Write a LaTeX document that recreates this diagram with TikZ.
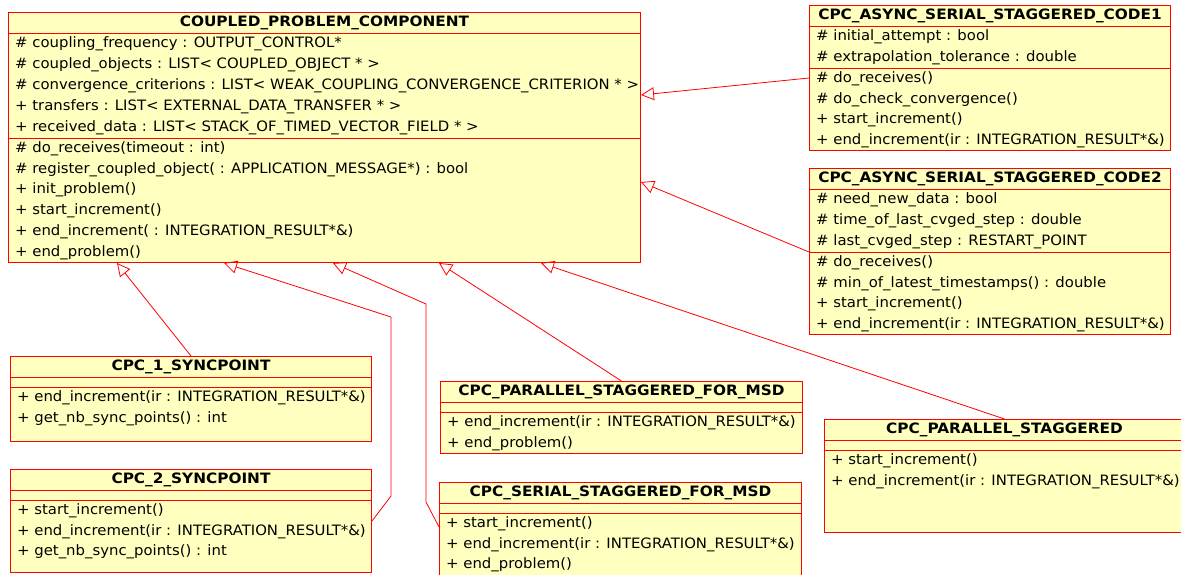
\documentclass[tikz,border=0pt]{standalone}
\usepackage{fontspec}
\setmainfont{DejaVu Sans}[FakeStretch=1.04]
\newfontfamily\titlefont{DejaVu Sans}[FakeStretch=1.07]
\usetikzlibrary{positioning,arrows.meta,calc}
\definecolor{umlfill}{HTML}{FFFFC0}
\definecolor{umlred}{HTML}{FF0000}
\tikzset{
  classbox/.style ={draw=umlred, fill=umlfill, line width=1pt, anchor=north west,
                    inner sep=0pt},
  classline/.style={draw=umlred, line width=1pt},
  classname/.style={font=\titlefont\fontsize{14.3}{16}\selectfont\bfseries, inner sep=0pt},
  member/.style   ={anchor=west, font=\fontsize{14.3}{16}\selectfont, inner sep=0pt},
  inherit/.style  ={-{Triangle[open, length=13pt, width=13pt]}, draw=umlred,
                    line width=0.8pt},
}
\newcommand{\umlclass}[8]{%
  % #1 name, #2 top left, #3 width, #4 height, #5 title,
  % #6 attribute rows, #7 attributes, #8 methods
  \node[classbox, minimum width=#3, minimum height=#4] (#1) at (#2) {};
  \node[classname] (#1-name) at ($(#1.north)+(0,10.5)$) {#5};
  \pgfmathsetmacro{\attrh}{max(10,21*#6)}%
  \draw[classline] ($(#1.north west)+(0,21)$) -- ($(#1.north east)+(0,21)$);
  \draw[classline] ($(#1.north west)+(0,21+\attrh)$) -- ($(#1.north east)+(0,21+\attrh)$);
  \ifnum#6>0
    \foreach [count=\i from 0] \txt in {#7} {%
      \node[member] (#1-a\i) at ($(#1.north west)+(7,31.5+21*\i)$) {\txt};%
    }%
  \fi
  \foreach [count=\i from 0] \txt in {#8} {%
    \node[member] (#1-m\i) at ($(#1.north west)+(7,31.5+\attrh+20.8*\i)$) {\txt};%
  }%
}

\begin{document}
\begin{tikzpicture}[x=1pt, y=-1pt]
  \fill[white] (0,0) rectangle (1181,574);
  \useasboundingbox (0,0) rectangle (1181,574);

  % ---- base class ---------------------------------------------------------
  \umlclass{main}{8,12}{632}{250}{COUPLED\_PROBLEM\_COMPONENT}{5}
    {\# coupling\_frequency : OUTPUT\_CONTROL*,
     \# coupled\_objects : LIST< COUPLED\_OBJECT * >,
     \# convergence\_criterions : LIST< WEAK\_COUPLING\_CONVERGENCE\_CRITERION * >,
     + transfers : LIST< EXTERNAL\_DATA\_TRANSFER * >,
     + received\_data : LIST< STACK\_OF\_TIMED\_VECTOR\_FIELD * >}
    {\# do\_receives(timeout : int),
     \# register\_coupled\_object( : APPLICATION\_MESSAGE*) : bool,
     + init\_problem(),
     + start\_increment(),
     + end\_increment( : INTEGRATION\_RESULT*\&),
     + end\_problem()}

  % ---- async classes ------------------------------------------------------
  \umlclass{code1}{809,5}{361}{145}{CPC\_ASYNC\_SERIAL\_STAGGERED\_CODE1}{2}
    {\# initial\_attempt : bool,
     \# extrapolation\_tolerance : double}
    {\# do\_receives(),
     \# do\_check\_convergence(),
     + start\_increment(),
     + end\_increment(ir : INTEGRATION\_RESULT*\&)}

  \umlclass{code2}{809,168}{361}{166}{CPC\_ASYNC\_SERIAL\_STAGGERED\_CODE2}{3}
    {\# need\_new\_data : bool,
     \# time\_of\_last\_cvged\_step : double,
     \# last\_cvged\_step : RESTART\_POINT}
    {\# do\_receives(),
     \# min\_of\_latest\_timestamps() : double,
     + start\_increment(),
     + end\_increment(ir : INTEGRATION\_RESULT*\&)}

  % ---- sync and staggered classes -----------------------------------------
  \umlclass{cpc1}{10,356}{361}{85}{CPC\_1\_SYNCPOINT}{0}{}
    {+ end\_increment(ir : INTEGRATION\_RESULT*\&),
     + get\_nb\_sync\_points() : int}

  \umlclass{cpc2}{10,469}{361}{103}{CPC\_2\_SYNCPOINT}{0}{}
    {+ start\_increment(),
     + end\_increment(ir : INTEGRATION\_RESULT*\&),
     + get\_nb\_sync\_points() : int}

  \umlclass{parmsd}{440,381}{362}{72}{CPC\_PARALLEL\_STAGGERED\_FOR\_MSD}{0}{}
    {+ end\_increment(ir : INTEGRATION\_RESULT*\&),
     + end\_problem()}

  \umlclass{serial}{439,482}{362}{110}{CPC\_SERIAL\_STAGGERED\_FOR\_MSD}{0}{}
    {+ start\_increment(),
     + end\_increment(ir : INTEGRATION\_RESULT*\&),
     + end\_problem()}

  \umlclass{par}{824,419}{360}{113}{CPC\_PARALLEL\_STAGGERED}{0}{}
    {+ start\_increment(),
     + end\_increment(ir : INTEGRATION\_RESULT*\&)}

  % ---- generalisations ----------------------------------------------------
  \coordinate (k2a) at (391,317);
  \coordinate (k2b) at (391,496);
  \coordinate (k5a) at (426,304);
  \coordinate (k5b) at (426,502);

  \draw[inherit] ($(code1.north west)+(0,73)$) -- ($(main.north east)+(0,83)$);
  \draw[inherit] ($(code2.north west)+(0,84)$) -- ($(main.north east)+(0,170)$);
  \draw[inherit] (cpc1.north) -- ($(main.south west)+(109,0)$);
  \draw[inherit] ($(cpc2.north east)+(0,52)$) -- (k2b) -- (k2a)
    -- ($(main.south west)+(216,0)$);
  \draw[inherit] ($(serial.north west)+(0,45)$) -- (k5b) -- (k5a)
    -- ($(main.south west)+(325,0)$);
  \draw[inherit] (parmsd.north) -- ($(main.south west)+(431,0)$);
  \draw[inherit] (par.north) -- ($(main.south west)+(533,0)$);
\end{tikzpicture}
\end{document}
